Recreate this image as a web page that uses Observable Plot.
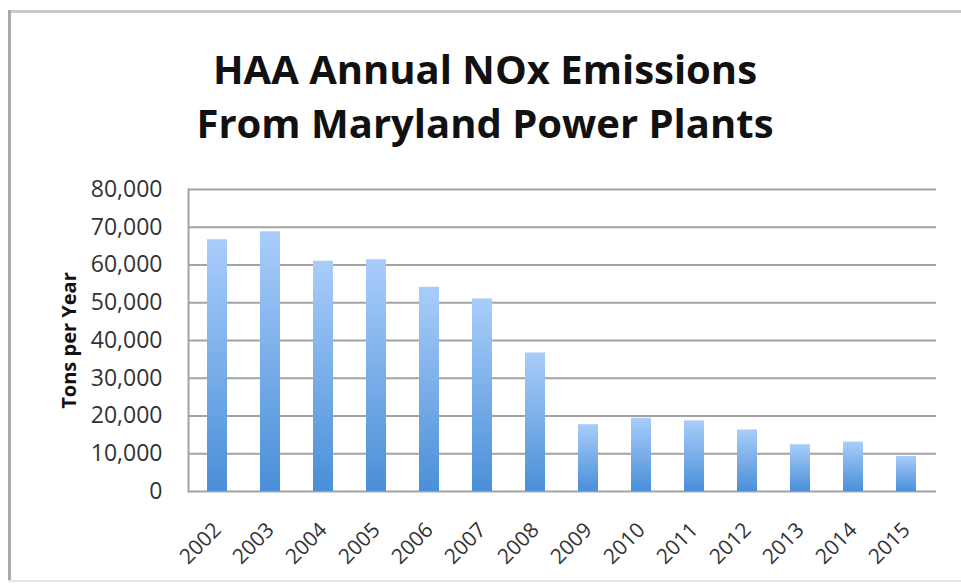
<!DOCTYPE html>
<html>
<head>
<meta charset="utf-8">
<script src="https://cdn.jsdelivr.net/npm/d3@7"></script>
<script src="https://cdn.jsdelivr.net/npm/@observablehq/plot@0.6"></script>
<style>
  html, body { margin: 0; padding: 0; background: #fff; overflow: hidden; }
  body { width: 961px; height: 584px; position: relative; font-family: "Open Sans", sans-serif; }
  .edge { position: absolute; }
  #edgeTop { left: 8px; top: 10px; width: 953px; height: 3px; background: #cacaca; }
  #edgeLeft { left: 8px; top: 10px; width: 3px; height: 572px; background: #a9a9a9; }
  #edgeBottom { left: 8px; top: 580px; width: 953px; height: 2px; background: #e4e4e4; }
  #title { position: absolute; left: 9px; top: 42px; width: 952px; text-align: center; white-space: nowrap;
           font-family: "Open Sans", sans-serif; font-weight: 700; font-size: 40px; line-height: 54px; color: #111; }
  #chart { position: absolute; left: 0; top: 0; }
</style>
</head>
<body>
<svg width="0" height="0" style="position:absolute">
  <defs>
    <linearGradient id="barGrad" x1="0" y1="0" x2="0" y2="1">
      <stop offset="0" stop-color="#a9cdfa"/>
      <stop offset="1" stop-color="#4a8fd8"/>
    </linearGradient>
  </defs>
</svg>
<div class="edge" id="edgeTop"></div>
<div class="edge" id="edgeLeft"></div>
<div class="edge" id="edgeBottom"></div>
<div id="title">HAA Annual NOx Emissions<br>From Maryland Power Plants</div>
<div id="chart"></div>
<script>
const years = ["2002","2003","2004","2005","2006","2007","2008","2009","2010","2011","2012","2013","2014","2015"];
const emissions = [66700, 68800, 61000, 61400, 54100, 51000, 36700, 17700, 19400, 18700, 16300, 12400, 13100, 9300];
const yTicks = [0, 10000, 20000, 30000, 40000, 50000, 60000, 70000, 80000];
const yLabel = "Tons per Year";

const data = years.map((y, i) => ({year: y, value: emissions[i]}));

const chart = Plot.plot({
  width: 961,
  height: 584,
  marginTop: 189,
  marginBottom: 93,
  marginLeft: 188,
  marginRight: 25,
  style: {background: "transparent", fontFamily: "Open Sans, sans-serif"},
  x: {domain: years, paddingInner: 0.62, paddingOuter: 0.31},
  y: {domain: [0, 80000]},
  marks: [
    Plot.gridY(yTicks, {stroke: "#a3a3a3", strokeOpacity: 1, strokeWidth: 2}),
    Plot.frame({anchor: "left", stroke: "#a3a3a3", strokeWidth: 2}),
    Plot.barY(data, {x: "year", y: "value", fill: "url(#barGrad)"}),
    Plot.axisY(yTicks, {
      tickSize: 0, tickPadding: 26, tickFormat: d3.format(","),
      fontSize: 23, color: "#333",
      label: yLabel, labelAnchor: "center", labelArrow: "none", labelOffset: 127
    }),
    Plot.axisX({
      tickSize: 0, tickPadding: 35, tickRotate: -45, dx: 0,
      fontSize: 21, color: "#333", label: null
    })
  ]
});
document.getElementById("chart").appendChild(chart);
// bold the y-axis label
chart.querySelectorAll("[aria-label='y-axis label'] text").forEach(t => {
  t.setAttribute("font-weight", "bold");
  t.setAttribute("font-size", "20");
  t.setAttribute("fill", "#111");
});
</script>
</body>
</html>
